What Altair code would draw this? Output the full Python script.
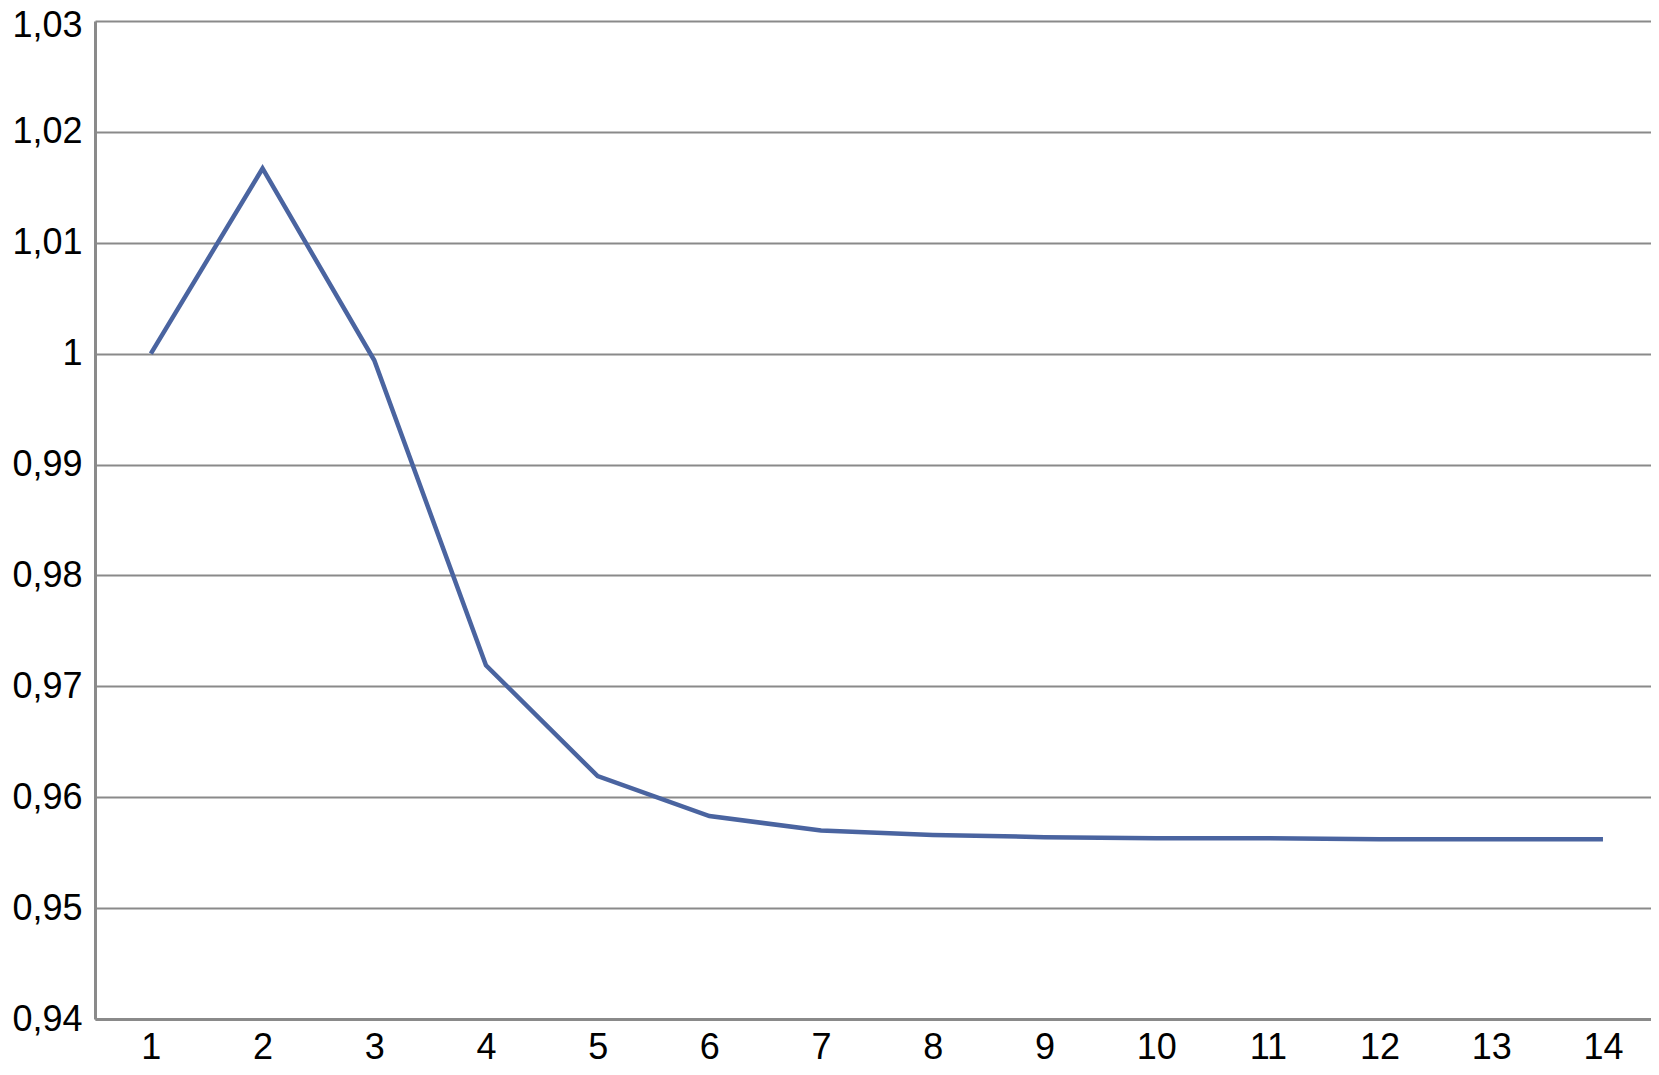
import altair as alt
import pandas as pd

steps = list(range(1, 15))
values = [1.0000, 1.0167, 0.9994, 0.9719, 0.9619, 0.9583, 0.9570,
          0.9566, 0.9564, 0.9563, 0.9563, 0.9562, 0.9562, 0.9562]
y_ticks = [0.94, 0.95, 0.96, 0.97, 0.98, 0.99, 1.00, 1.01, 1.02, 1.03]

df = pd.DataFrame({"step": steps, "value": values})

GRID = "#8a8a8a"
FONT = "Liberation Sans"

chart = alt.Chart(df).mark_line(color="#4a64a0", strokeWidth=4.5).encode(
    x=alt.X("step:Q", scale=alt.Scale(domain=[0.5, 14.43], nice=False, zero=False),
            axis=alt.Axis(title=None, values=steps, format="d", labelAngle=0,
                          ticks=False, domainColor=GRID, domainWidth=3,
                          labelFont=FONT, labelFontSize=36, labelColor="black",
                          labelPadding=11, grid=False, labelFlush=False,
                          labelOverlap=False)),
    y=alt.Y("value:Q", scale=alt.Scale(domain=[0.94, 1.03], nice=False, zero=False),
            axis=alt.Axis(title=None, values=y_ticks, ticks=False, domainColor=GRID,
                          domainWidth=3, gridColor=GRID, gridWidth=2, gridOpacity=1,
                          labelFont=FONT, labelFontSize=36, labelColor="black",
                          labelPadding=13, labelFlush=False,
                          labelOffset={"condition": {"test": "datum.value > 1.025", "value": 4},
                                       "value": 0},
                          labelExpr="replace(format(datum.value, '.2~f'), '.', ',')")),
).properties(
    width=1556, height=998,
    autosize=alt.AutoSizeParams(type="none"),
    padding={"left": 87, "top": 13, "right": 0, "bottom": 47},
).configure_view(strokeWidth=0)

chart.save("out.html", embed_options={"renderer": "svg", "actions": False})
